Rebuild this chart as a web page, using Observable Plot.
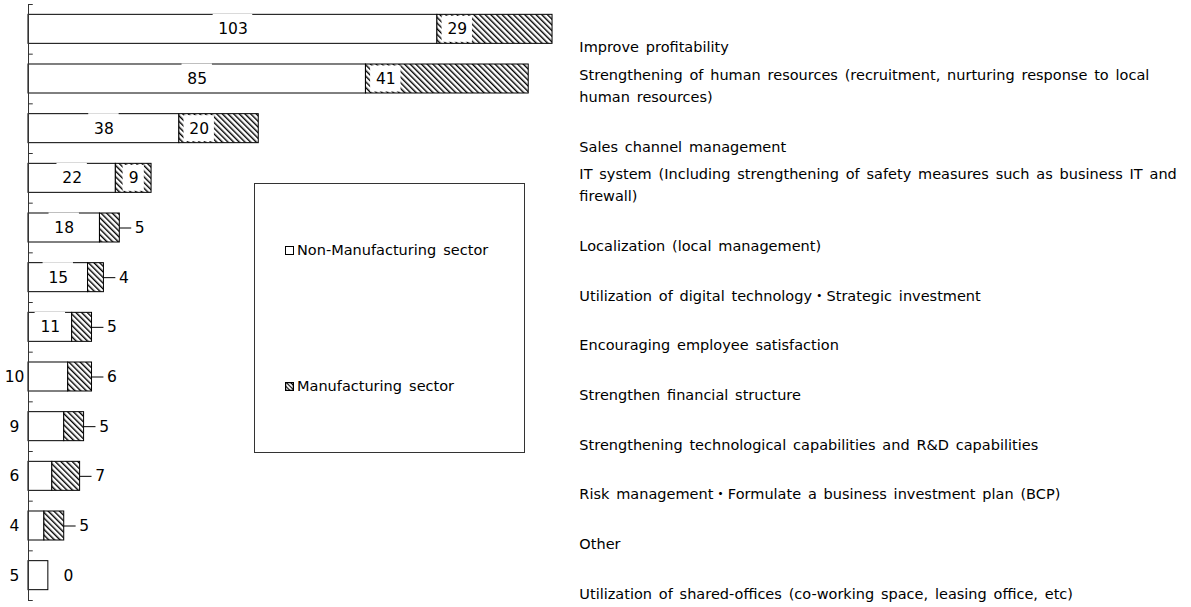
<!DOCTYPE html>
<html>
<head>
<meta charset="utf-8">
<script src="https://cdn.jsdelivr.net/npm/d3@7"></script>
<script src="https://cdn.jsdelivr.net/npm/@observablehq/plot@0.6"></script>
<style>
  html, body { margin: 0; padding: 0; background: #fff; }
  #wrap { position: relative; width: 1191px; height: 607px; font-family: "DejaVu Sans", "Noto Sans CJK JP", sans-serif; }
  #wrap svg text { word-spacing: 2.2px; }
  #legend { position: absolute; left: 254px; top: 183px; width: 271px; height: 270px; box-sizing: border-box;
            border: 1px solid #333; background: #fff; font-size: 14.5px; color: #000; word-spacing: 2.5px; }
  .item { position: absolute; left: 30px; display: flex; align-items: center; white-space: nowrap; }
  .item svg { margin-right: 3px; }
</style>
</head>
<body>
<div id="wrap"></div>
<script>
const categories = [
  "Improve profitability",
  "Strengthening of human resources (recruitment, nurturing response to local\nhuman resources)",
  "Sales channel management",
  "IT system (Including strengthening of safety measures such as business IT and\nfirewall)",
  "Localization (local management)",
  "Utilization of digital technology・Strategic investment",
  "Encouraging employee satisfaction",
  "Strengthen financial structure",
  "Strengthening technological capabilities and R&D capabilities",
  "Risk management・Formulate a business investment plan (BCP)",
  "Other",
  "Utilization of shared-offices (co-working space, leasing office, etc)"
];
const nonManufacturing = [103, 85, 38, 22, 18, 15, 11, 10, 9, 6, 4, 5];
const manufacturing    = [29, 41, 20, 9, 5, 4, 5, 6, 5, 7, 5, 0];
const sectors = ["Non-Manufacturing sector", "Manufacturing sector"];

const rows = categories.map((c, i) => ({cat: c, nm: nonManufacturing[i], m: manufacturing[i]}));

const W = 1191, H = 607;
const mL = 28, mT = 4, mB = 7;
const k = 3.97;            // px per unit
const xMax = 138;
const mR = W - mL - xMax * k;
const step = (H - mT - mB) / categories.length;
const font = '"DejaVu Sans", "Noto Sans CJK JP", sans-serif';

const boxHalf = (v) => (String(v).length * 4.6 + 6) / k;

const nmIn = rows.filter(d => d.nm > 10);
const nmOut = rows.filter(d => d.nm <= 10);
const mIn = rows.filter(d => d.m >= 9);
const mOut = rows.filter(d => d.m < 9);
const mCenter = d => d.nm + Math.min(5, d.m / 2);

const chart = Plot.plot({
  width: W, height: H,
  marginLeft: mL, marginRight: mR, marginTop: mT, marginBottom: mB,
  style: {fontFamily: font, fontSize: "15px", color: "#000", background: "#fff"},
  x: {domain: [0, xMax], axis: null},
  y: {domain: categories, paddingInner: 0.416, paddingOuter: 0.208, round: false, axis: null},
  marks: [
    // bars
    Plot.barX(rows, {y: "cat", x1: 0, x2: "nm", fill: "white", stroke: "black", strokeWidth: 1}),
    Plot.barX(rows.filter(d => d.m > 0), {y: "cat", x1: "nm", x2: d => d.nm + d.m, fill: "url(#hatch)", stroke: "black", strokeWidth: 1}),
    // axis line + ticks at band boundaries
    Plot.ruleX([0], {stroke: "#333"}),
    Plot.ruleY(categories, {y: d => d, dy: -step / 2, x1: 0, x2: 1.2, stroke: "#333"}),
    Plot.ruleY(categories.slice(-1), {y: d => d, dy: step / 2, x1: 0, x2: 1.2, stroke: "#333"}),
    // label backgrounds
    Plot.barX(nmIn, {y: "cat", x1: d => d.nm / 2 - boxHalf(d.nm), x2: d => d.nm / 2 + boxHalf(d.nm), fill: "white", insetTop: -0.5, insetBottom: 1.5}),
    Plot.barX(mIn, {y: "cat", x1: d => mCenter(d) - boxHalf(d.m), x2: d => mCenter(d) + boxHalf(d.m), fill: "white", insetTop: 1.5, insetBottom: 1.5}),
    // value labels
    Plot.text(nmIn, {y: "cat", x: d => d.nm / 2, text: d => String(d.nm), fontSize: 15.5}),
    Plot.text(nmOut, {y: "cat", x: 0, dx: -14, text: d => String(d.nm), fontSize: 15.5}),
    Plot.text(mIn, {y: "cat", x: mCenter, text: d => String(d.m), fontSize: 15.5}),
    Plot.ruleY(mOut.filter(d => d.m > 0), {y: "cat", x1: d => d.nm + d.m, x2: d => d.nm + d.m + 3, stroke: "black"}),
    Plot.text(mOut, {y: "cat", x: d => d.nm + d.m, dx: 20, text: d => String(d.m), fontSize: 15.5}),
    // category labels on the right
    Plot.text(categories, {y: d => d, text: d => d, frameAnchor: "right", textAnchor: "start", dx: 3,
      lineAnchor: "bottom", dy: 23, fontSize: 14.5, lineHeight: 1.52})
  ]
});

// hatch pattern definition
const ns = "http://www.w3.org/2000/svg";
const defs = document.createElementNS(ns, "defs");
defs.innerHTML = `<pattern id="hatch" width="4" height="4" patternUnits="userSpaceOnUse" patternTransform="rotate(-45)">
  <rect width="4" height="4" fill="white"/>
  <line x1="0.7" y1="0" x2="0.7" y2="4" stroke="black" stroke-width="1.4"/>
</pattern>`;
chart.insertBefore(defs, chart.firstChild);

const wrap = document.getElementById("wrap");
wrap.appendChild(chart);

// legend (overlay box)
const legend = document.createElement("div");
legend.id = "legend";
const sw = [
  `<svg width="9" height="9"><rect x="0.5" y="0.5" width="8" height="8" fill="white" stroke="black"/></svg>`,
  `<svg width="9" height="9"><defs><pattern id="hatch2" width="3" height="3" patternUnits="userSpaceOnUse" patternTransform="rotate(-45)"><rect width="3" height="3" fill="white"/><line x1="0.5" y1="0" x2="0.5" y2="3" stroke="black" stroke-width="1.2"/></pattern></defs><rect x="0.5" y="0.5" width="8" height="8" fill="url(#hatch2)" stroke="black" stroke-width="1.5"/></svg>`
];
const tops = [58, 194];
sectors.forEach((s, i) => {
  const it = document.createElement("div");
  it.className = "item";
  it.style.top = tops[i] + "px";
  it.innerHTML = sw[i] + `<span>${s}</span>`;
  legend.appendChild(it);
});
wrap.appendChild(legend);
</script>
</body>
</html>
